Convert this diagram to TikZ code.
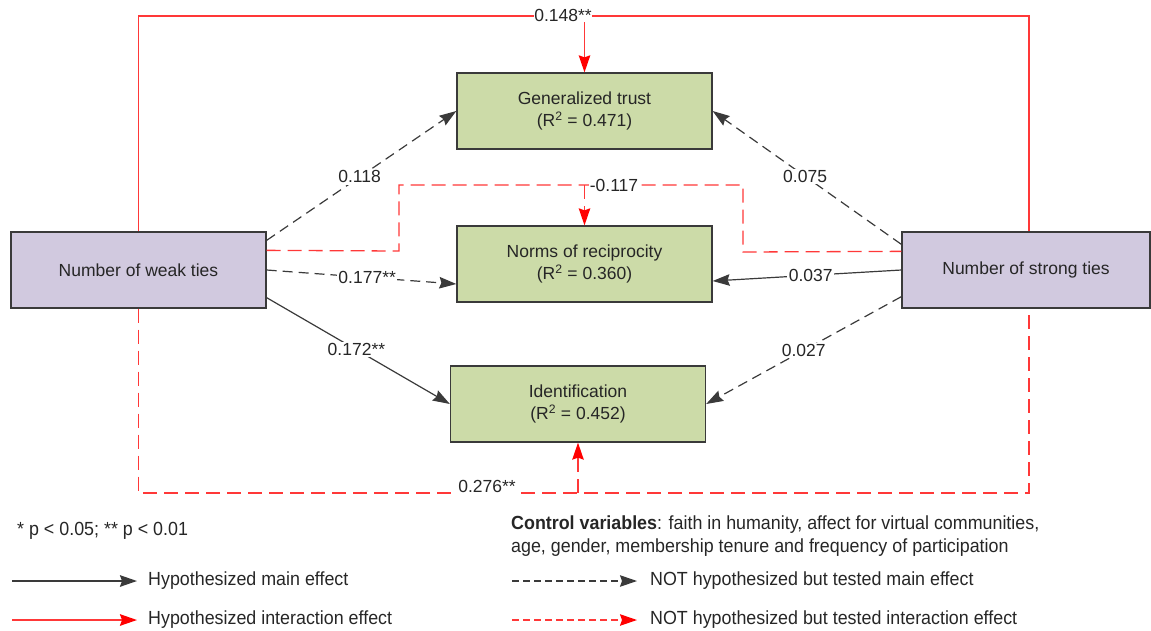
\documentclass[tikz,border=0pt]{standalone}
\usepackage{fontspec}
\setmainfont{Liberation Sans}
\newfontfamily\narrowfont[FakeStretch=0.94]{Liberation Sans}
\usetikzlibrary{arrows.meta}
\definecolor{boxgreen}{HTML}{CCDBA8}
\definecolor{boxpurple}{HTML}{D1C9DF}
\definecolor{edgegray}{HTML}{3A3A3A}
\definecolor{txtgray}{HTML}{262626}
\definecolor{redline}{HTML}{FF3838}
\begin{document}
\begin{tikzpicture}[x=1pt,y=-1pt,
  font=\fontsize{17.5}{22}\selectfont, text=txtgray,
  box/.style={draw=edgegray, line width=1.3pt, minimum width=255pt, minimum height=76pt, inner sep=0pt, align=center},
  greenbox/.style={box, fill=boxgreen},
  purplebox/.style={box, fill=boxpurple},
  tip/.style={-{Stealth[length=17pt,width=11.5pt,inset=2pt]}},
  mainsolid/.style={draw=edgegray, line width=1.2pt, tip},
  maindash/.style={draw=edgegray, line width=1.2pt, dash pattern=on 10pt off 6pt, tip},
  redsolid/.style={draw=redline, line width=1.3pt},
  reddash/.style={draw=redline, line width=1.3pt, dash pattern=on 14pt off 7pt},
  redtip/.style={-{Stealth[length=17pt,width=11.5pt,inset=2pt,color=red,fill=red]}},
  lab/.style={fill=white, inner sep=1.5pt},
  legtext/.style={font=\narrowfont\fontsize{19}{23}\selectfont, anchor=west, inner sep=0pt}
]
\useasboundingbox (0,0) rectangle (1151,630);

% nodes
\node[purplebox] (weak) at (138.5,270) {Number of weak ties};
\node[purplebox, minimum width=248pt] (strong) at (1026,270) {Number of strong ties};
\node[greenbox] (gen) at (584.5,111) {Generalized trust\\(R\textsuperscript{2} = 0.471)};
\node[greenbox] (norms) at (584.5,264) {Norms of reciprocity\\(R\textsuperscript{2} = 0.360)};
\node[greenbox] (ident) at (578,404) {Identification\\(R\textsuperscript{2} = 0.452)};

% red interaction paths
\coordinate (toptr) at (1029,16);
\coordinate (topa) at (584.5,16);
\draw[redsolid] (weak.north) |- (toptr) -- ([xshift=3pt]strong.north);
\draw[redsolid, redtip] (topa) -- (gen.north);
\node[lab, inner sep=0.5pt] (l148) at (563,15) {0.148**};

\coordinate (m1) at (399,251);
\coordinate (m2) at (399,185);
\coordinate (m3) at (743,185);
\coordinate (m4) at (743,252);
\coordinate (mida) at (584.5,185);
\draw[reddash] ([yshift=-19pt]weak.north east) -- (m1) -- (m2) -- (m3) -- (m4) -- ([yshift=-20pt]strong.north west);
\draw[reddash, redtip] (mida) -- (norms.north);
\node[lab, inner sep=0.5pt] (l117) at (614,185) {-0.117};

\coordinate (b1) at (138.5,493);
\coordinate (b2) at (1029,493);
\coordinate (bota) at (578,493);
\draw[reddash] (weak.south) -- (b1) -- (b2) -- ([xshift=3pt]strong.south);
\draw[reddash, redtip] (bota) -- (ident.south);
\node[lab, inner sep=2pt, minimum height=20pt] (l276) at (487,486) {0.276**};

% main effect paths
\draw[maindash] ([yshift=-9pt]weak.north east) -- node[lab, pos=0.49] {0.118} (gen.west);
\draw[maindash] (weak.east) -- node[lab, pos=0.53] {0.177**} ([yshift=-20pt]norms.west);
\draw[mainsolid] ([yshift=11pt]weak.south east) -- node[lab, pos=0.49] {0.172**} (ident.west);
\draw[maindash] ([yshift=-13pt]strong.north west) -- node[lab, pos=0.51] {0.075} (gen.east);
\draw[mainsolid] (strong.west) -- node[lab, pos=0.48] {0.037} ([yshift=-17pt]norms.east);
\draw[maindash] ([yshift=12pt]strong.south west) -- node[lab, pos=0.5] {0.027} (ident.east);

% legend
\node[legtext] (pval) at (17,531) {* p < 0.05; ** p < 0.01};
\node[legtext, align=left, anchor=north west] (ctrl) at (511,516) {\textbf{Control variables}: faith in humanity, affect for virtual communities,\\age, gender, membership tenure and frequency of participation};

\coordinate (ls1) at (12,581);
\coordinate (le1) at (137,581);
\coordinate (ls2) at (512,581);
\coordinate (le2) at (637,581);
\coordinate (ls3) at (12,620);
\coordinate (le3) at (137,620);
\coordinate (ls4) at (512,620);
\coordinate (le4) at (637,620);
\draw[mainsolid, line width=1.8pt] (ls1) -- (le1);
\draw[maindash, dash pattern=on 7pt off 4pt] (ls2) -- (le2);
\draw[redsolid, redtip, line width=1.8pt] (ls3) -- (le3);
\draw[reddash, redtip, dash pattern=on 7pt off 4pt] (ls4) -- (le4);
\node[legtext] (t1) at (148,581) {Hypothesized main effect};
\node[legtext] (t2) at (650,581) {NOT hypothesized but tested main effect};
\node[legtext] (t3) at (148,620) {Hypothesized interaction effect};
\node[legtext] (t4) at (650,620) {NOT hypothesized but tested interaction effect};
\end{tikzpicture}
\end{document}
